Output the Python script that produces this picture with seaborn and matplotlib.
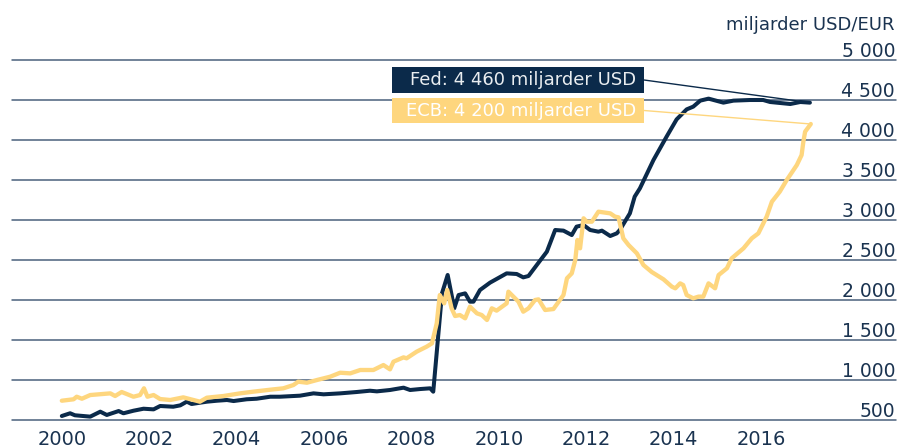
import numpy as np
import pandas as pd
import matplotlib
matplotlib.use("Agg")
import matplotlib.pyplot as plt
import matplotlib.transforms as mtransforms
from matplotlib.patches import Rectangle, ConnectionPatch
import seaborn as sns

# Fed balance sheet, billions USD
fed_years = [2000.00, 2000.19, 2000.30, 2000.65, 2000.88, 2001.03, 2001.30, 2001.41,
             2001.64, 2001.87, 2002.10, 2002.25, 2002.55, 2002.71, 2002.86, 2002.97,
             2003.16, 2003.32, 2003.55, 2003.78, 2003.93, 2004.23, 2004.46, 2004.77,
             2004.99, 2005.45, 2005.76, 2005.99, 2006.37, 2006.75, 2007.05, 2007.21,
             2007.51, 2007.82, 2007.97, 2008.20, 2008.43, 2008.50, 2008.70, 2008.83,
             2008.98, 2009.08, 2009.23, 2009.34, 2009.42, 2009.57, 2009.80, 2010.18,
             2010.41, 2010.56, 2010.68, 2010.87, 2011.10, 2011.29, 2011.48, 2011.67,
             2011.78, 2011.94, 2012.09, 2012.28, 2012.36, 2012.55, 2012.70, 2012.77,
             2013.00, 2013.11, 2013.23, 2013.54, 2013.84, 2014.07, 2014.30, 2014.45,
             2014.61, 2014.80, 2015.14, 2015.37, 2015.75, 2016.05, 2016.21, 2016.67,
             2016.90, 2017.12]
fed_values = [550, 584, 559, 542, 604, 563, 612, 584,
              616, 641, 633, 675, 666, 683, 729, 700,
              716, 729, 741, 750, 737, 759, 766, 791,
              791, 804, 833, 821, 833, 850, 866, 858,
              875, 904, 875, 887, 896, 854, 2083, 2313,
              1896, 2062, 2083, 1979, 1979, 2125, 2217, 2333,
              2325, 2283, 2300, 2438, 2604, 2875, 2867, 2812,
              2917, 2937, 2875, 2854, 2867, 2800, 2833, 2875,
              3083, 3292, 3396, 3750, 4042, 4258, 4383, 4417,
              4492, 4517, 4467, 4492, 4500, 4500, 4475, 4450,
              4475, 4467]

# ECB balance sheet
ecb_years = [2000.00, 2000.27, 2000.34, 2000.46, 2000.65, 2001.11, 2001.22, 2001.37,
             2001.64, 2001.79, 2001.88, 2001.96, 2002.10, 2002.25, 2002.48, 2002.78,
             2003.16, 2003.32, 2003.70, 2004.08, 2004.38, 2004.84, 2005.07, 2005.30,
             2005.41, 2005.61, 2005.84, 2006.14, 2006.37, 2006.60, 2006.83, 2007.13,
             2007.36, 2007.51, 2007.59, 2007.82, 2007.89, 2008.12, 2008.35, 2008.47,
             2008.58, 2008.65, 2008.75, 2008.82, 2008.92, 2009.00, 2009.11, 2009.23,
             2009.34, 2009.50, 2009.61, 2009.73, 2009.84, 2009.95, 2010.18, 2010.22,
             2010.45, 2010.56, 2010.68, 2010.83, 2010.91, 2011.06, 2011.25, 2011.48,
             2011.56, 2011.67, 2011.75, 2011.80, 2011.86, 2011.94, 2012.01, 2012.13,
             2012.28, 2012.55, 2012.66, 2012.74, 2012.85, 2012.97, 2013.16, 2013.31,
             2013.50, 2013.77, 2013.96, 2014.04, 2014.15, 2014.22, 2014.30, 2014.45,
             2014.57, 2014.68, 2014.80, 2014.95, 2015.03, 2015.22, 2015.33, 2015.60,
             2015.79, 2015.94, 2016.13, 2016.25, 2016.43, 2016.59, 2016.82, 2016.93,
             2016.97, 2017.01, 2017.14]
ecb_values = [741, 759, 791, 766, 812, 833, 800, 850,
              791, 812, 896, 791, 812, 762, 750, 783,
              729, 779, 800, 833, 854, 883, 896, 937,
              979, 966, 1000, 1041, 1091, 1083, 1125, 1125,
              1187, 1133, 1229, 1283, 1271, 1354, 1417, 1458,
              1708, 2062, 1958, 2125, 1896, 1800, 1812, 1771,
              1917, 1833, 1812, 1750, 1896, 1867, 1958, 2104,
              1979, 1854, 1896, 2000, 2008, 1875, 1887, 2062,
              2271, 2333, 2500, 2750, 2646, 3021, 2979, 2979,
              3104, 3083, 3042, 3033, 2771, 2687, 2583, 2437,
              2350, 2258, 2167, 2146, 2208, 2187, 2062, 2021,
              2042, 2042, 2208, 2146, 2312, 2396, 2521, 2646,
              2771, 2833, 3042, 3229, 3354, 3500, 3687, 3812,
              3979, 4104, 4200]

y_ticks = [500, 1000, 1500, 2000, 2500, 3000, 3500, 4000, 4500, 5000]
x_ticks = [2000, 2002, 2004, 2006, 2008, 2010, 2012, 2014, 2016]

fed_label = "Fed: 4 460 miljarder USD"
ecb_label = "ECB: 4 200 miljarder USD"
unit_label = "miljarder USD/EUR"

FED_COLOR = "#0b2a4a"
ECB_COLOR = "#fed67e"
TEXT_COLOR = "#1a3350"
GRID_COLOR = "#4a617c"

sns.set_style("white")
plt.rcParams["font.family"] = ["DejaVu Sans"]

fed_df = pd.DataFrame({"year": fed_years, "value": fed_values})
ecb_df = pd.DataFrame({"year": ecb_years, "value": ecb_values})

fig = plt.figure(figsize=(8.98, 4.48), dpi=100)
ax = fig.add_axes([12 / 898, 28 / 448, 884 / 898, 360 / 448])

for v in y_ticks:
    ax.axhline(v, color=GRID_COLOR, lw=1.1, zorder=1, clip_on=False)

sns.lineplot(data=fed_df, x="year", y="value", color=FED_COLOR, lw=2.9, ax=ax, zorder=3)
sns.lineplot(data=ecb_df, x="year", y="value", color=ECB_COLOR, lw=3.1, ax=ax, zorder=4)

ax.set_xlim(1998.86, 2019.09)
ax.set_ylim(500, 5000)
for s in ax.spines.values():
    s.set_visible(False)
ax.set_xlabel("")
ax.set_ylabel("")
ax.set_yticks([])
ax.set_xticks(x_ticks)
ax.set_xticklabels([str(x) for x in x_ticks], fontsize=14, color=TEXT_COLOR)
ax.tick_params(axis="x", length=0, pad=7)

trans = mtransforms.blended_transform_factory(ax.transAxes, ax.transData)
for v in y_ticks:
    ax.annotate(f"{v:,}".replace(",", " "), xy=(1.0, v), xycoords=trans,
                xytext=(-1, 3), textcoords="offset pixels",
                ha="right", va="baseline", fontsize=13.5, color=TEXT_COLOR)

fig.text(895 / 898, 1 - 30 / 448, unit_label, ha="right", va="baseline",
         fontsize=13, color=TEXT_COLOR)

# annotation boxes with leader lines to the latest values
boxes = [
    (fed_label, FED_COLOR, "#e9edf0", 1 - 93 / 448, 26 / 448, fed_df),
    (ecb_label, ECB_COLOR, "#ffffff", 1 - 123 / 448, 25 / 448, ecb_df),
]
bx0, bw = 392 / 898, 252 / 898
for label, fc, tc, by0, bh, df in boxes:
    fig.patches.append(Rectangle((bx0, by0), bw, bh, transform=fig.transFigure,
                                 facecolor=fc, edgecolor="none", zorder=5))
    fig.text(636 / 898, by0 + bh / 2, label, ha="right", va="center",
             fontsize=13, color=tc, zorder=6)
    con = ConnectionPatch(xyA=(bx0 + bw, by0 + bh / 2), coordsA="figure fraction",
                          xyB=(df["year"].iloc[-1], df["value"].iloc[-1]), coordsB="data",
                          axesA=ax, axesB=ax, color=fc, lw=1.0, zorder=6)
    fig.add_artist(con)

fig.savefig("out.png", dpi=100)
